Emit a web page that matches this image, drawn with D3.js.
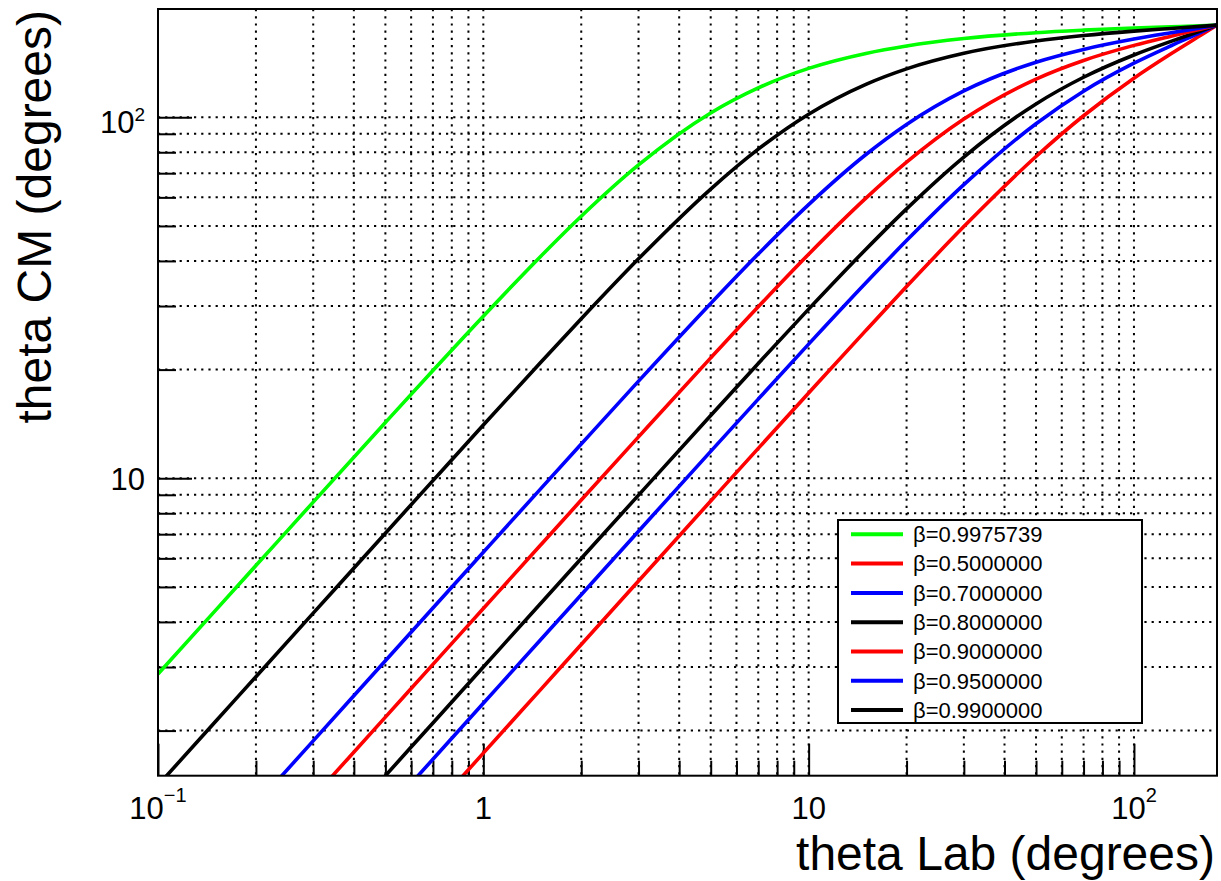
<!DOCTYPE html>
<html>
<head>
<meta charset="utf-8">
<script src="https://cdn.jsdelivr.net/npm/d3@7"></script>
<style>
  body { margin: 0; background: #fff; }
  svg { display: block; }
  text { font-family: "Liberation Sans", Arial, Helvetica, sans-serif; fill: #000; }
</style>
</head>
<body>
<svg id="chart" width="1221" height="881"></svg>
<script>
// ---------------- data ----------------
const thetaLab = [0.1, 0.15, 0.2, 0.3, 0.5, 0.7, 1, 1.5, 2, 3, 5, 7, 10, 15, 20, 30, 50, 70, 100, 130, 160, 180];

const cmBeta9975739 = [2.87, 4.30, 5.73, 8.59, 14.27, 19.88, 28.11, 41.17, 53.2, 73.8, 102.8, 120.6, 136.6, 150.3, 157.6, 165.2, 171.5, 174.3, 176.7, 178.1, 179.3, 180];
const cmBeta50 = [0.173, 0.260, 0.346, 0.520, 0.866, 1.212, 1.732, 2.598, 3.464, 5.194, 8.65, 12.10, 17.23, 25.69, 33.97, 49.79, 77.86, 100.98, 128.3, 149.9, 168.4, 180];
const cmBeta70 = [0.238, 0.357, 0.476, 0.714, 1.19, 1.666, 2.380, 3.570, 4.759, 7.134, 11.87, 16.57, 23.53, 34.80, 45.54, 65.06, 95.97, 118.1, 141.2, 157.8, 171.5, 180];
const cmBeta80 = [0.30, 0.45, 0.60, 0.90, 1.50, 2.10, 3.00, 4.50, 5.995, 8.98, 14.93, 20.80, 29.41, 43.10, 55.76, 77.59, 108.9, 129.1, 148.8, 162.3, 173.3, 180];
const cmBeta90 = [0.436, 0.654, 0.872, 1.308, 2.179, 3.051, 4.357, 6.532, 8.702, 13.02, 21.55, 29.86, 41.75, 59.70, 75.09, 98.86, 127.6, 143.7, 158.2, 167.8, 175.4, 180];
const cmBeta95 = [0.625, 0.937, 1.249, 1.873, 3.122, 4.370, 6.239, 9.347, 12.44, 18.58, 30.50, 41.81, 57.30, 78.85, 95.52, 118.3, 142.1, 154.2, 164.7, 171.5, 176.8, 180];
const cmBeta99 = [1.411, 2.116, 2.821, 4.230, 7.045, 9.851, 14.04, 20.93, 27.67, 40.55, 63.26, 81.58, 102.0, 123.4, 136.2, 150.4, 162.7, 168.4, 173.2, 176.2, 178.6, 180];

const seriesLabels = ["β=0.9975739", "β=0.5000000", "β=0.7000000", "β=0.8000000", "β=0.9000000", "β=0.9500000", "β=0.9900000"];
const seriesValues = [cmBeta9975739, cmBeta50, cmBeta70, cmBeta80, cmBeta90, cmBeta95, cmBeta99];
const seriesColors = ["#00ff00", "#ff0000", "#0000ff", "#000000", "#ff0000", "#0000ff", "#000000"];

const xMajorTicks = [0.1, 1, 10, 100];
const xMinorTicks = [0.2, 0.3, 0.4, 0.5, 0.6, 0.7, 0.8, 0.9, 2, 3, 4, 5, 6, 7, 8, 9, 20, 30, 40, 50, 60, 70, 80, 90];
const yMajorTicks = [10, 100];
const yMinorTicks = [2, 3, 4, 5, 6, 7, 8, 9, 20, 30, 40, 50, 60, 70, 80, 90];
const xTickLabels = [["10", "−1"], ["1", ""], ["10", ""], ["10", "2"]];
const yTickLabels = [["10", ""], ["10", "2"]];

const xTitle = "theta Lab (degrees)";
const yTitle = "theta CM (degrees)";

// ---------------- layout ----------------
const L = 158, R = 1217, T = 9, B = 775.7;
const svg = d3.select("#chart");
svg.append("rect").attr("width", 1221).attr("height", 881).attr("fill", "#fff");

const x = d3.scaleLog().domain([0.1, 180]).range([L, R]);
const y = d3.scaleLog().domain([1.5, 199.5]).range([B, T]);

// grid
const grid = svg.append("g").attr("stroke", "#000").attr("stroke-width", 2).attr("stroke-dasharray", "2.2,5");
xMajorTicks.concat(xMinorTicks).forEach(v => {
  grid.append("line").attr("x1", x(v)).attr("x2", x(v)).attr("y1", T).attr("y2", B);
});
yMajorTicks.concat(yMinorTicks).forEach(v => {
  grid.append("line").attr("x1", L).attr("x2", R).attr("y1", y(v)).attr("y2", y(v));
});

// axes ticks (inside)
function styleAxis(g) {
  g.select(".domain").remove();
  g.selectAll(".tick line").attr("stroke", "#000").attr("stroke-width", 2);
  g.selectAll(".tick text").remove();
}
svg.append("g").attr("transform", `translate(0,${B})`)
  .call(d3.axisBottom(x).tickValues(xMajorTicks).tickSize(-32).tickFormat(""))
  .call(styleAxis);
svg.append("g").attr("transform", `translate(0,${B})`)
  .call(d3.axisBottom(x).tickValues(xMinorTicks).tickSize(-15).tickFormat(""))
  .call(styleAxis);
svg.append("g").attr("transform", `translate(${L},0)`)
  .call(d3.axisLeft(y).tickValues(yMajorTicks).tickSize(-34).tickFormat(""))
  .call(styleAxis);
svg.append("g").attr("transform", `translate(${L},0)`)
  .call(d3.axisLeft(y).tickValues(yMinorTicks).tickSize(-18).tickFormat(""))
  .call(styleAxis);

// tick labels
xMajorTicks.forEach((v, i) => {
  const t = svg.append("text").attr("x", x(v)).attr("y", 819)
    .attr("text-anchor", "middle").attr("font-size", 31).text(xTickLabels[i][0]);
  if (xTickLabels[i][1]) t.append("tspan").attr("dy", -17).attr("font-size", 20).text(xTickLabels[i][1]);
});
yMajorTicks.forEach((v, i) => {
  const sup = yTickLabels[i][1];
  const t = svg.append("text").attr("x", 145).attr("y", y(v) + (sup ? 15.4 : 11.7))
    .attr("text-anchor", "end").attr("font-size", 31).text(yTickLabels[i][0]);
  if (sup) t.append("tspan").attr("dy", -12).attr("font-size", 19).text(sup);
});

// curves
svg.append("clipPath").attr("id", "plotclip").append("rect")
  .attr("x", L).attr("y", T).attr("width", R - L).attr("height", B - T);
const line = d3.line().x(d => x(d[0])).y(d => y(d[1])).curve(d3.curveMonotoneX);
const curves = svg.append("g").attr("clip-path", "url(#plotclip)");
seriesValues.forEach((vals, i) => {
  curves.append("path")
    .datum(thetaLab.map((t, j) => [t, vals[j]]))
    .attr("d", line).attr("fill", "none")
    .attr("stroke", seriesColors[i]).attr("stroke-width", 3.6)
    .attr("stroke-linejoin", "round");
});

// frame
svg.append("rect").attr("x", L).attr("y", T).attr("width", R - L).attr("height", B - T)
  .attr("fill", "none").attr("stroke", "#000").attr("stroke-width", 2);

// legend
const lg = svg.append("g");
lg.append("rect").attr("x", 838).attr("y", 520).attr("width", 304).attr("height", 203)
  .attr("fill", "#fff").attr("stroke", "#000").attr("stroke-width", 2);
seriesLabels.forEach((lab, i) => {
  const cy = 534.3 + i * 29.3;
  lg.append("line").attr("x1", 851).attr("x2", 903).attr("y1", cy).attr("y2", cy)
    .attr("stroke", seriesColors[i]).attr("stroke-width", 4);
  lg.append("text").attr("x", 913).attr("y", cy + 7.8).attr("font-size", 22).text(lab);
});

// axis titles
svg.append("text").attr("x", 1215).attr("y", 870).attr("text-anchor", "end")
  .attr("font-size", 48).text(xTitle);
svg.append("text").attr("transform", "translate(51,10) rotate(-90)").attr("text-anchor", "end")
  .attr("font-size", 48).text(yTitle);
</script>
</body>
</html>
